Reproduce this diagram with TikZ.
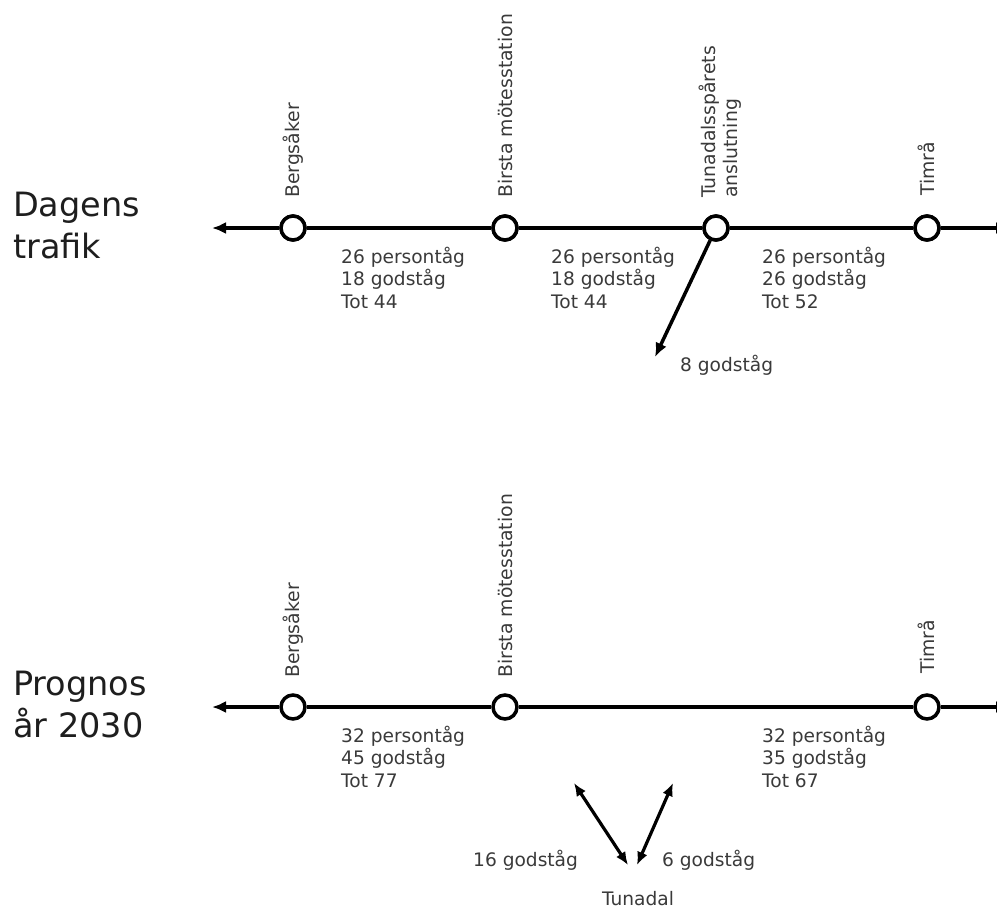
\documentclass[tikz,border=0pt]{standalone}
\usepackage{fontspec}
\setmainfont{DejaVu Sans}
\usetikzlibrary{arrows.meta}
\definecolor{txt}{HTML}{3A3A3A}
\definecolor{head}{HTML}{1E1E1E}
\begin{document}
\begin{tikzpicture}[x=1pt,y=-1pt,
  track/.style={line width=3.5pt,black},
  arr/.style={line width=3.5pt,black,-{Latex[length=14pt,width=12pt]}},
  darr/.style={line width=3.2pt,black,{Latex[length=13pt,width=11pt]}-{Latex[length=13pt,width=11pt]}},
  stn/.style={circle,draw=black,line width=3.5pt,fill=white,minimum size=24pt,inner sep=0pt},
  lbl/.style={rotate=90,anchor=west,inner sep=0pt,text=txt,font=\fontsize{18.8}{22}\selectfont,align=left},
  info/.style={anchor=base west,inner sep=0pt,text=txt,font=\fontsize{18.6}{22.5}\selectfont,align=left},
  heading/.style={anchor=base west,inner sep=0pt,text=head,font=\fontsize{33.5}{41.5}\selectfont,align=left}]
\useasboundingbox (0,0) rectangle (997,908);
\clip (0,0) rectangle (997,908);
\fill[white] (0,0) rectangle (997,908);

% ---------- Dagens trafik ----------
\node[heading] (h1) at (13,258) {Dagens\\trafik};

\coordinate (l1) at (212,228);
\coordinate (r1) at (1010,228);
\node[stn] (b1) at (293,228) {};
\node[stn] (s1) at (505,228) {};
\node[stn] (t1) at (716,228) {};
\node[stn] (m1) at (927,228) {};
\coordinate (br1) at (655,357);

\draw[arr] (b1) -- (l1);
\draw[track] (b1) -- (s1);
\draw[track] (s1) -- (t1);
\draw[track] (t1) -- (m1);
\draw[arr] (m1) -- (r1);
\draw[arr] (t1) -- (br1);
\node[stn] at (b1) {};
\node[stn] at (s1) {};
\node[stn] at (t1) {};
\node[stn] at (m1) {};

\node[lbl] (lb1) at (293,198) {Bergsåker};
\node[lbl] (ls1) at (505,198) {Birsta mötesstation};
\node[lbl] (lt1) at (720,198) {Tunadalsspårets\\anslutning};
\node[lbl] (lm1) at (926,196) {Timrå};

\node[info] (i11) at (341,308) {26 persontåg\\18 godståg\\Tot 44};
\node[info] (i12) at (551,308) {26 persontåg\\18 godståg\\Tot 44};
\node[info] (i13) at (762,308) {26 persontåg\\26 godståg\\Tot 52};
\node[info] (i14) at (680,371) {8 godståg};

% ---------- Prognos år 2030 ----------
\node[heading] (h2) at (13,737) {Prognos\\år 2030};

\coordinate (l2) at (212,707);
\coordinate (r2) at (1010,707);
\node[stn] (b2) at (293,707) {};
\node[stn] (s2) at (505,707) {};
\node[stn] (m2) at (927,707) {};

\draw[arr] (b2) -- (l2);
\draw[track] (b2) -- (s2);
\draw[track] (s2) -- (m2);
\draw[arr] (m2) -- (r2);

\node[lbl] (lb2) at (293,678) {Bergsåker};
\node[lbl] (ls2) at (505,678) {Birsta mötesstation};
\node[lbl] (lm2) at (926,674) {Timrå};

\node[info] (i21) at (341,787) {32 persontåg\\45 godståg\\Tot 77};
\node[info] (i22) at (762,787) {32 persontåg\\35 godståg\\Tot 67};

\coordinate (va) at (574,783);
\coordinate (vb) at (628,865);
\coordinate (vc) at (673,783);
\coordinate (vd) at (637,865);
\draw[darr] (va) -- (vb);
\draw[darr] (vc) -- (vd);

\node[info] (i23) at (473,866) {16 godståg};
\node[info] (i24) at (662,866) {6 godståg};
\node[info,anchor=base] (tn) at (638,905) {Tunadal};
\end{tikzpicture}
\end{document}
